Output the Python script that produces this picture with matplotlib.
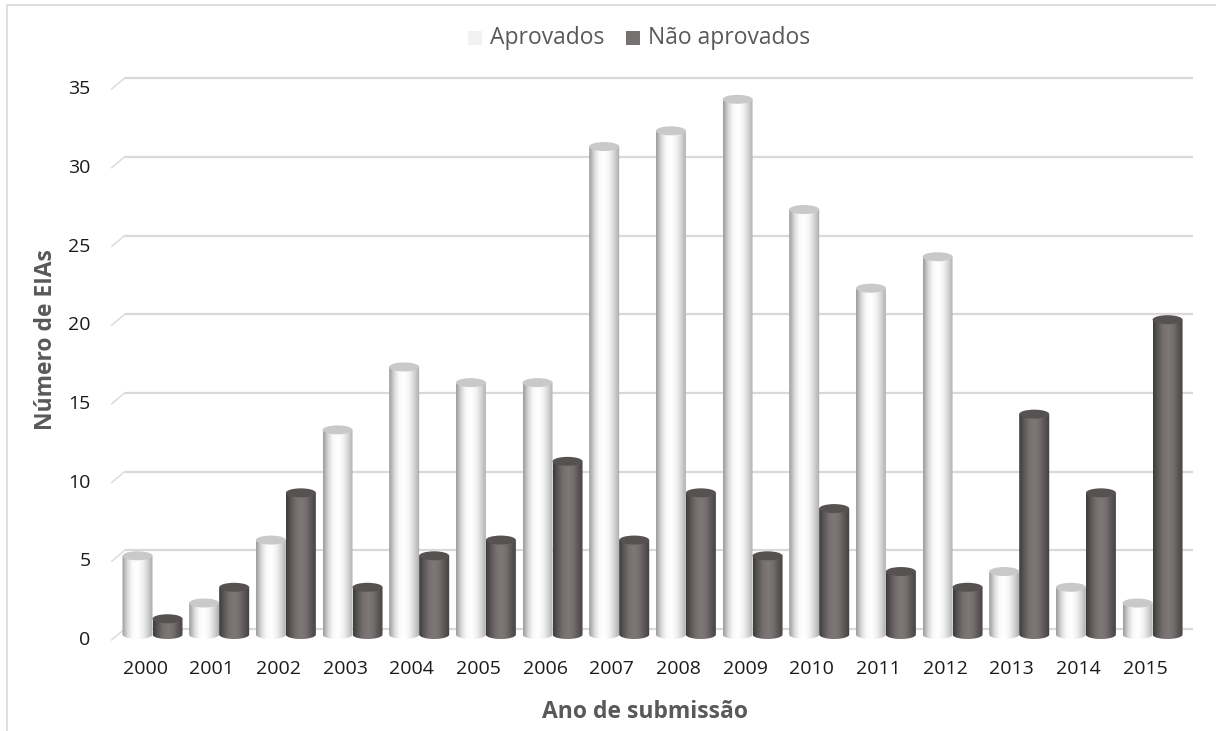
import numpy as np
import matplotlib

matplotlib.use("Agg")
import matplotlib.pyplot as plt
from matplotlib.colors import LinearSegmentedColormap
from matplotlib.patches import Ellipse, PathPatch, Rectangle
from matplotlib.path import Path

years = [str(y) for y in range(2000, 2016)]
aprovados = [5, 2, 6, 13, 17, 16, 16, 31, 32, 34, 27, 22, 24, 4, 3, 2]
nao_aprovados = [1, 3, 9, 3, 5, 6, 11, 6, 9, 5, 8, 4, 3, 14, 9, 20]
y_ticks = [0, 5, 10, 15, 20, 25, 30, 35]

W, H = 1216, 731
PX_X = 66.67   # pixels per category
PX_Y = 15.74   # pixels per unit
X0_PX, Y0_PX = 145, 640  # front position of first category / zero line

FONT = "Open Sans"
GREY_TXT = "#595959"

white_cmap = LinearSegmentedColormap.from_list(
    "w", ["#9a9a9a", "#d8d8d8", "#fbfbfb", "#ffffff", "#f2f2f2", "#d2d2d2", "#a8a8a8"])
dark_cmap = LinearSegmentedColormap.from_list(
    "d", ["#3f3b3b", "#5e5959", "#767070", "#7e7878", "#736d6d", "#5a5555", "#433f3f"])

fig = plt.figure(figsize=(W / 100, H / 100), dpi=100)
ax = fig.add_axes([0, 0, 1, 1])
xlim = (-X0_PX / PX_X, (W - X0_PX) / PX_X)
ylim = ((Y0_PX - H) / PX_Y, Y0_PX / PX_Y)

# depth offsets (back wall and mid-depth where the cylinders sit)
back_dx, back_dy = 13 / PX_X, 11 / PX_Y
mid_dx, mid_dy = 7.5 / PX_X, 5.5 / PX_Y

bar_w = 0.45
ell_h = 9 / PX_Y
grad = np.linspace(0, 1, 128).reshape(1, -1)


def cylinder(xl, value, cmap, top_color, z):
    xr = xl + bar_w
    xc = xl + bar_w / 2
    yb = mid_dy
    yt = mid_dy + value
    # side: rectangle with rounded bottom (lower half of the base ellipse)
    t = np.linspace(np.pi, 2 * np.pi, 40)
    bottom = np.column_stack([xc + bar_w / 2 * np.cos(t), yb + ell_h / 2 * np.sin(t)])
    verts = np.vstack([[[xl, yt]], bottom, [[xr, yt]], [[xl, yt]]])
    codes = [Path.MOVETO] + [Path.LINETO] * (len(verts) - 2) + [Path.CLOSEPOLY]
    side = PathPatch(Path(verts, codes), facecolor="none", edgecolor="none")
    ax.add_patch(side)
    im = ax.imshow(grad, cmap=cmap, aspect="auto", interpolation="bicubic",
                   extent=[xl, xr, yb - ell_h / 2, yt], zorder=z)
    im.set_clip_path(side)
    ax.add_patch(Ellipse((xc, yt), bar_w, ell_h, facecolor=top_color,
                         edgecolor="none", zorder=z + 0.5))


# back wall gridlines and slanted ticks
for v in y_ticks:
    ax.plot([-0.5 + back_dx, 15.5 + back_dx + 0.02], [v + back_dy, v + back_dy],
            color="#d9d9d9", lw=1.6, zorder=1, solid_capstyle="butt")
    ax.plot([-0.5, -0.5 + back_dx], [v, v + back_dy], color="#d9d9d9", lw=1.0, zorder=1)
    ax.text(-0.5 - 0.315, v, str(v), ha="right", va="center", fontsize=14,
            family=FONT, color="#1a1a1a")

for i in range(len(years)):
    c = i + mid_dx
    cylinder(c - bar_w, aprovados[i], white_cmap, "#c9c9c9", 3)
    cylinder(c, nao_aprovados[i], dark_cmap, "#575252", 4)
    ax.text(i, (Y0_PX - 669) / PX_Y, years[i], ha="center", va="center", fontsize=14,
            family=FONT, color="#1a1a1a")

ax.text(7.5, (Y0_PX - 712) / PX_Y, "Ano de submissão", ha="center", va="center",
        fontsize=16.5, family=FONT, weight="bold", color=GREY_TXT)
ax.text((46 - X0_PX) / PX_X, (Y0_PX - 340) / PX_Y, "Número de EIAs", ha="center",
        va="center", fontsize=16.5, family=FONT, weight="bold", color=GREY_TXT,
        rotation=90)

# legend
leg_y = (Y0_PX - 38) / PX_Y
sq_w, sq_h = 14 / PX_X, 14 / PX_Y
for x_px, label, col in [(468, "Aprovados", "#f2f2f2"), (626, "Não aprovados", "#767171")]:
    xd = (x_px - X0_PX) / PX_X
    ax.add_patch(Rectangle((xd, leg_y - sq_h / 2), sq_w, sq_h, facecolor=col,
                           edgecolor="none"))
    ax.text(xd + sq_w + 8 / PX_X, leg_y, label, ha="left", va="center",
            fontsize=16.5, family=FONT, color=GREY_TXT)

# chart border
ax.plot([(7 - X0_PX) / PX_X, (7 - X0_PX) / PX_X, (W - X0_PX) / PX_X],
        [(Y0_PX - H) / PX_Y, (Y0_PX - 5) / PX_Y, (Y0_PX - 5) / PX_Y],
        color="#d9d9d9", lw=1.2)

ax.set_xlim(*xlim)
ax.set_ylim(*ylim)
ax.axis("off")
fig.savefig("out.png", dpi=100)
